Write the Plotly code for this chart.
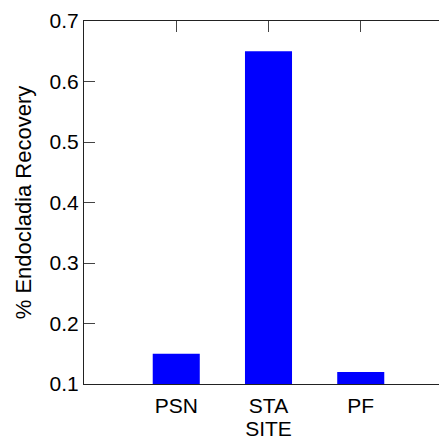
import plotly.graph_objects as go

sites = ["PSN", "STA", "PF"]
recovery = [0.15, 0.65, 0.12]
y_ticks = [0.1, 0.2, 0.3, 0.4, 0.5, 0.6, 0.7]

FONT = "Liberation Sans, Arial, sans-serif"

fig = go.Figure(
    go.Bar(
        x=[1, 2, 3],
        y=recovery,
        width=0.51,
        marker=dict(color="#0000ff", line=dict(width=0)),
    )
)

axis_common = dict(
    showline=True,
    linecolor="#222222",
    linewidth=1,
    mirror="ticks",
    ticks="inside",
    ticklen=11,
    tickcolor="#444444",
    showgrid=False,
    zeroline=False,
    layer="below traces",
    ticklabeloverflow="allow",
    tickfont=dict(family=FONT, size=21, color="black"),
)

# the page body keeps its default 8px margin, so the margins here are
# shifted by that amount; the right axis falls just past the window edge
fig.update_layout(
    width=447,
    height=442,
    margin=dict(l=76, r=1, t=9, b=66),
    plot_bgcolor="white",
    paper_bgcolor="white",
    showlegend=False,
    font=dict(family=FONT, size=21, color="black"),
    xaxis=dict(
        axis_common,
        range=[0, 4],
        tickvals=[1, 2, 3],
        ticktext=sites,
        ticklabelstandoff=3,
        title=dict(text="SITE", font=dict(family=FONT, size=21), standoff=3),
    ),
    yaxis=dict(
        axis_common,
        range=[0.1, 0.7],
        tickvals=y_ticks,
        ticktext=[f"{v:.1f}" for v in y_ticks],
        ticklabelstandoff=0,
        title=dict(text="% Endocladia Recovery", font=dict(family=FONT, size=22), standoff=11),
    ),
)

fig.write_html("out.html", config=dict(displayModeBar=False))
